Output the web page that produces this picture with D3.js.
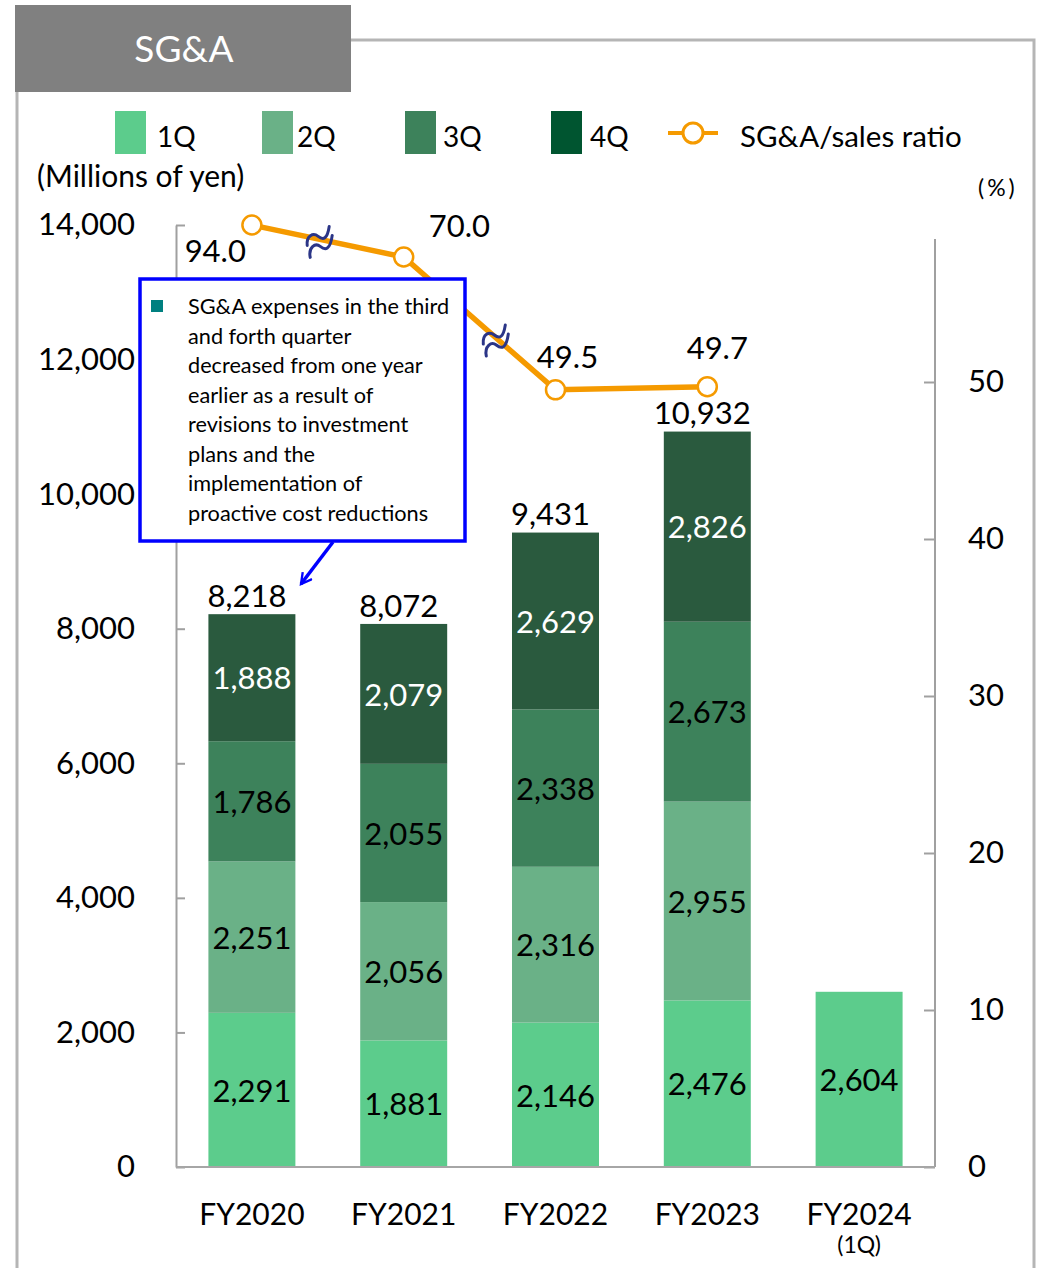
<!DOCTYPE html>
<html>
<head>
<meta charset="utf-8">
<script src="https://cdn.jsdelivr.net/npm/d3@7"></script>
<style>
  body { margin: 0; background: #fff; }
  svg text { font-family: Lato, "Noto Sans", sans-serif; }
</style>
</head>
<body>
<div id="chart"></div>
<script>
const years = ["FY2020", "FY2021", "FY2022", "FY2023", "FY2024"];
const quarters = ["1Q", "2Q", "3Q", "4Q"];
const q1 = [2291, 1881, 2146, 2476, 2604];
const q2 = [2251, 2056, 2316, 2955, 0];
const q3 = [1786, 2055, 2338, 2673, 0];
const q4 = [1888, 2079, 2629, 2826, 0];
const totals = [8218, 8072, 9431, 10932, null];
const ratio = [94.0, 70.0, 49.5, 49.7];
const leftTicks = [0, 2000, 4000, 6000, 8000, 10000, 12000, 14000];
const rightTicks = [0, 10, 20, 30, 40, 50];
const noteLines = [
  "SG&A expenses in the third",
  "and forth quarter",
  "decreased from one year",
  "earlier as a result of",
  "revisions to investment",
  "plans and the",
  "implementation of",
  "proactive cost reductions"
];

const barColors = ["#5ccc8c", "#6ab187", "#3d825b", "#2a5a3e"];
const legendColors = ["#5ccc8c", "#6ab187", "#3d825b", "#005530"];
const orange = "#f59a00";

const w = 1040, h = 1268;
const plotLeft = 176, plotRight = 935, plotBottom = 1167, plotTop = 225;

const svg = d3.select("#chart").append("svg")
  .attr("width", w).attr("height", h);

// frame + title tab
svg.append("path")
  .attr("d", "M351,40 H1034 V1270 M17,92 V1270")
  .attr("fill", "none").attr("stroke", "#b5b5b5").attr("stroke-width", 3);
svg.append("rect").attr("x", 15).attr("y", 5).attr("width", 336).attr("height", 87)
  .attr("fill", "#808080");
svg.append("text").attr("x", 184).attr("y", 62).attr("text-anchor", "middle")
  .attr("fill", "#fff").style("font-size", "37px").text("SG&A");

// legend
const legX = [115, 262, 405, 551];
const legTextX = [157, 297, 443, 590];
quarters.forEach((q, i) => {
  svg.append("rect").attr("x", legX[i]).attr("y", 111).attr("width", 31).attr("height", 43)
    .attr("fill", legendColors[i]);
  svg.append("text").attr("x", legTextX[i]).attr("y", 147).style("font-size", "28px").text(q);
});
svg.append("line").attr("x1", 668).attr("x2", 718).attr("y1", 133).attr("y2", 133)
  .attr("stroke", orange).attr("stroke-width", 4);
svg.append("circle").attr("cx", 693).attr("cy", 133).attr("r", 10)
  .attr("fill", "#fff").attr("stroke", orange).attr("stroke-width", 3);
svg.append("text").attr("x", 740).attr("y", 147).style("font-size", "29.5px").text("SG&A/sales ratio");

svg.append("text").attr("x", 37).attr("y", 187).style("font-size", "30px").text("(Millions of yen)");
svg.append("text").attr("x", 978).attr("y", 196).style("font-size", "23px")
  .style("letter-spacing", "3px").text("(%)");

// scales
const x = d3.scaleBand().domain(years).range([plotLeft, plotRight])
  .paddingInner(0.427).paddingOuter(0.2135);
const y = d3.scaleLinear().domain([0, 14000]).range([plotBottom, plotTop]);
// ratio axis with a break above 50
const yr = d3.scaleLinear().domain([0, 50, 70, 94]).range([plotBottom, 382, 257, 225]);

// left axis
const yAxis = d3.axisLeft(y).tickValues(leftTicks).tickSizeInner(-9).tickSizeOuter(0)
  .tickPadding(41).tickFormat(d3.format(","));
const gy = svg.append("g").attr("transform", `translate(${plotLeft},0)`).call(yAxis);
gy.select(".domain").attr("stroke", "#a0a0a0").attr("stroke-width", 2);
gy.selectAll(".tick line").attr("stroke", "#a0a0a0").attr("stroke-width", 2);
gy.selectAll("text").style("font-size", "31px").attr("fill", "#000");

// right axis
const yrAxis = d3.axisRight(yr).tickValues(rightTicks).tickSizeInner(-11).tickSizeOuter(0)
  .tickPadding(33);
const gr = svg.append("g").attr("transform", `translate(${plotRight},0)`).call(yrAxis);
gr.select(".domain").remove();
gr.append("line").attr("x1", 0).attr("x2", 0).attr("y1", 239).attr("y2", plotBottom)
  .attr("stroke", "#a0a0a0").attr("stroke-width", 2);
gr.selectAll(".tick line").attr("stroke", "#a0a0a0").attr("stroke-width", 2);
gr.selectAll("text").style("font-size", "31px").attr("fill", "#000");

// stacked bars
const rows = years.map((yr0, i) => ({ year: yr0, q1: q1[i], q2: q2[i], q3: q3[i], q4: q4[i] }));
const stack = d3.stack().keys(["q1", "q2", "q3", "q4"])(rows);

stack.forEach((layer, li) => {
  const g = svg.append("g");
  g.selectAll("rect").data(layer.filter(d => d[1] > d[0])).enter().append("rect")
    .attr("x", d => x(d.data.year))
    .attr("width", x.bandwidth())
    .attr("y", d => y(d[1]))
    .attr("height", d => y(d[0]) - y(d[1]))
    .attr("fill", barColors[li]);
  g.selectAll("text").data(layer.filter(d => d[1] > d[0])).enter().append("text")
    .attr("x", d => x(d.data.year) + x.bandwidth() / 2)
    .attr("y", d => (y(d[0]) + y(d[1])) / 2)
    .attr("dy", "0.38em")
    .attr("text-anchor", "middle")
    .attr("fill", li === 3 ? "#fff" : "#000")
    .style("font-size", "31px")
    .text(d => d3.format(",")(d[1] - d[0]));
});

// bottom axis line
svg.append("line").attr("x1", plotLeft).attr("x2", plotRight)
  .attr("y1", plotBottom).attr("y2", plotBottom)
  .attr("stroke", "#a6a6a6").attr("stroke-width", 2);

// totals
svg.selectAll(".total").data(years.filter((d, i) => totals[i] !== null)).enter().append("text")
  .attr("class", "total")
  .attr("x", d => x(d) + x.bandwidth() / 2 - 5)
  .attr("y", (d, i) => y(totals[i]) - 7)
  .attr("text-anchor", "middle")
  .style("font-size", "31px")
  .text((d, i) => d3.format(",")(totals[i]));

// x labels
svg.selectAll(".xlab").data(years).enter().append("text")
  .attr("class", "xlab")
  .attr("x", d => x(d) + x.bandwidth() / 2)
  .attr("y", 1225)
  .attr("text-anchor", "middle")
  .style("font-size", "30px")
  .text(d => d);
svg.append("text").attr("x", x("FY2024") + x.bandwidth() / 2).attr("y", 1253)
  .attr("text-anchor", "middle").style("font-size", "23px").text("(1Q)");

// ratio line
const rx = (d, i) => x(years[i]) + x.bandwidth() / 2;
svg.append("path").datum(ratio)
  .attr("d", d3.line().x(rx).y(d => yr(d)))
  .attr("fill", "none").attr("stroke", orange).attr("stroke-width", 5.5);

// break marks on the line
function breakMark(i, t) {
  const x0 = rx(0, i) + t * (rx(0, i + 1) - rx(0, i));
  const y0 = yr(ratio[i]) + t * (yr(ratio[i + 1]) - yr(ratio[i]));
  const g = svg.append("g").attr("transform", `translate(${x0},${y0 + 3})`);
  ["M-13,3 C-14,-7 -7,-10 -2,-6 S7,-3 9,-16", "M-10,15 C-12,5 -5,0 0,4 S10,8 12,-7"].forEach(p => {
    g.append("path").attr("d", p)
      .attr("fill", "none").attr("stroke", "#2b3587").attr("stroke-width", 3)
      .attr("stroke-linecap", "round");
  });
}
breakMark(0, 0.45);
breakMark(1, 0.61);

svg.selectAll(".pt").data(ratio).enter().append("circle")
  .attr("class", "pt")
  .attr("cx", rx).attr("cy", d => yr(d)).attr("r", 9.5)
  .attr("fill", "#fff").attr("stroke", orange).attr("stroke-width", 2.5);

const ratioLabelStyle = [
  { dx: -6, dy: 37, anchor: "end" },
  { dx: 25, dy: -20, anchor: "start" },
  { dx: 12, dy: -22, anchor: "middle" },
  { dx: 10, dy: -28, anchor: "middle" }
];
svg.selectAll(".rlab").data(ratio).enter().append("text")
  .attr("class", "rlab")
  .attr("x", (d, i) => rx(d, i) + ratioLabelStyle[i].dx)
  .attr("y", (d, i) => yr(d) + ratioLabelStyle[i].dy)
  .attr("text-anchor", (d, i) => ratioLabelStyle[i].anchor)
  .style("font-size", "31px")
  .text(d => d.toFixed(1));

// annotation box
svg.append("defs").append("marker")
  .attr("id", "arrow").attr("viewBox", "0 0 12 12").attr("refX", 10).attr("refY", 6)
  .attr("markerWidth", 14).attr("markerHeight", 14).attr("markerUnits", "userSpaceOnUse")
  .attr("orient", "auto")
  .append("path").attr("d", "M1,1 L10,6 L1,11").attr("fill", "none")
  .attr("stroke", "#0000ff").attr("stroke-width", 2);
svg.append("line").attr("x1", 333).attr("y1", 542).attr("x2", 301).attr("y2", 584)
  .attr("stroke", "#0000ff").attr("stroke-width", 3.5).attr("marker-end", "url(#arrow)");
svg.append("rect").attr("x", 140).attr("y", 279).attr("width", 325).attr("height", 262)
  .attr("fill", "#fff").attr("stroke", "#0000ff").attr("stroke-width", 3.5);
svg.append("rect").attr("x", 151).attr("y", 300).attr("width", 12).attr("height", 12)
  .attr("fill", "#008080");
svg.selectAll(".note").data(noteLines).enter().append("text")
  .attr("class", "note")
  .attr("x", 188)
  .attr("y", (d, i) => 314 + i * 29.5)
  .style("font-size", "21.7px")
  .text(d => d);
</script>
</body>
</html>
